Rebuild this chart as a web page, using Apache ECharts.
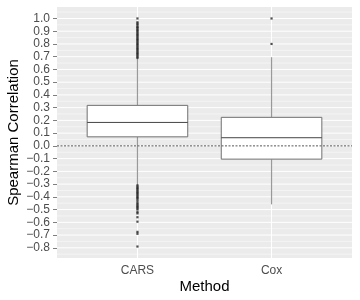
<!DOCTYPE html>
<html><head><meta charset="utf-8">
<script src="https://cdn.jsdelivr.net/npm/echarts@6/dist/echarts.min.js"></script>
<style>html,body{margin:0;padding:0;background:#fff}#c{width:360px;height:300px}</style>
</head><body><div id="c"></div>
<script>
// ---- data ----
const categories = ['CARS', 'Cox'];
const categoryX = [1, 2];
// [lower whisker, Q1, median, Q3, upper whisker]
const carsBox = [-0.307, 0.071, 0.184, 0.318, 0.686];
const coxBox = [-0.459, -0.104, 0.064, 0.224, 0.696];
const carsOutliers = [1.0, 0.97, 0.96, 0.95, 0.935, 0.93, 0.92, 0.91, 0.90, 0.89, 0.88, 0.87, 0.86, 0.85, 0.84, 0.83, 0.82, 0.81, 0.80, 0.79, 0.78, 0.77, 0.76, 0.75, 0.74, 0.73, 0.72, 0.71, 0.70, 0.69,
  -0.31, -0.32, -0.33, -0.34, -0.35, -0.36, -0.37, -0.38, -0.39, -0.40, -0.41, -0.42, -0.435, -0.45, -0.46, -0.47, -0.48, -0.49, -0.50, -0.52, -0.53, -0.56, -0.595, -0.675, -0.69, -0.79];
const coxOutliers = [1.0, 0.8];
const yMajorTicks = [-0.8, -0.7, -0.6, -0.5, -0.4, -0.3, -0.2, -0.1, 0.0, 0.1, 0.2, 0.3, 0.4, 0.5, 0.6, 0.7, 0.8, 0.9, 1.0];
const yMinorTicks = [-0.85, -0.75, -0.65, -0.55, -0.45, -0.35, -0.25, -0.15, -0.05, 0.05, 0.15, 0.25, 0.35, 0.45, 0.55, 0.65, 0.75, 0.85, 0.95, 1.05];
const referenceY = [0.0];

// ---- chart ----
const chart = echarts.init(document.getElementById('c'), null, {renderer: 'canvas'});
const font = '"Liberation Sans", Arial, sans-serif';
const fmt = v => (v < 0 ? '\u2212' : '') + Math.abs(v).toFixed(1);

const boxData = [[categoryX[0]].concat(carsBox), [categoryX[1]].concat(coxBox)];
const outlierData = carsOutliers.map(v => [categoryX[0], v]).concat(coxOutliers.map(v => [categoryX[1], v]));

function hLine(color, dash) {
  return function (params, api) {
    const cs = params.coordSys;
    const y = api.coord([categoryX[0], api.value(1)])[1];
    return {type: 'line', shape: {x1: cs.x, y1: y, x2: cs.x + cs.width, y2: y},
      style: {stroke: color, lineWidth: 1, lineDash: dash || null}};
  };
}

const option = {
  animation: false,
  grid: {left: 57, right: 8, top: 7, bottom: 42, show: true, backgroundColor: '#EBEBEB', borderWidth: 0,
    containLabel: false, outerBoundsMode: 'none'},
  xAxis: {
    type: 'value', min: 0.4, max: 2.6,
    name: 'Method', nameLocation: 'middle', nameGap: 21, nameMoveOverlap: false,
    nameTextStyle: {fontFamily: font, fontSize: 15, color: '#000'},
    axisLine: {show: false}, splitLine: {show: false},
    axisTick: {show: true, customValues: categoryX, length: 4, lineStyle: {color: '#7f7f7f'}},
    axisLabel: {customValues: categoryX, formatter: v => categories[categoryX.indexOf(v)] || '', margin: 7,
      fontFamily: font, fontSize: 12, color: '#4d4d4d'}
  },
  yAxis: {
    type: 'value', min: -0.88, max: 1.09,
    name: 'Spearman Correlation', nameLocation: 'middle', nameRotate: 90, nameGap: 36, nameMoveOverlap: false,
    nameTextStyle: {fontFamily: font, fontSize: 15, color: '#000'},
    axisLine: {show: false}, splitLine: {show: false},
    axisTick: {show: true, customValues: yMajorTicks, length: 4, lineStyle: {color: '#7f7f7f'}},
    axisLabel: {customValues: yMajorTicks, formatter: fmt, margin: 7,
      fontFamily: font, fontSize: 12, color: '#4d4d4d'}
  },
  series: [
    {type: 'custom', z: 1, silent: true, data: yMinorTicks.map(v => [categoryX[0], v]), renderItem: hLine('#F4F4F4')},
    {type: 'custom', z: 1, silent: true, data: yMajorTicks.map(v => [categoryX[0], v]), renderItem: hLine('#FFFFFF')},
    {type: 'custom', z: 1, silent: true, data: categoryX.map(x => [x, 0]), renderItem: function (params, api) {
      const cs = params.coordSys;
      const x = api.coord([api.value(0), 0])[0];
      return {type: 'line', shape: {x1: x, y1: cs.y, x2: x, y2: cs.y + cs.height}, style: {stroke: '#FFFFFF', lineWidth: 1}};
    }},
    {type: 'custom', z: 2, silent: true, data: boxData, encode: {x: 0, y: [1, 2, 3, 4, 5]},
      renderItem: function (params, api) {
        const x = api.value(0);
        const pLo = api.coord([x, api.value(1)]);
        const pQ1 = api.coord([x, api.value(2)]);
        const pMed = api.coord([x, api.value(3)]);
        const pQ3 = api.coord([x, api.value(4)]);
        const pHi = api.coord([x, api.value(5)]);
        const hw = api.size([0.75, 0])[0] / 2;
        const cx = pMed[0];
        return {type: 'group', children: [
          {type: 'line', shape: {x1: cx, y1: pHi[1], x2: cx, y2: pQ3[1]}, style: {stroke: '#999999', lineWidth: 1.2}},
          {type: 'line', shape: {x1: cx, y1: pQ1[1], x2: cx, y2: pLo[1]}, style: {stroke: '#999999', lineWidth: 1.2}},
          {type: 'rect', shape: {x: cx - hw, y: pQ3[1], width: 2 * hw, height: pQ1[1] - pQ3[1]},
            style: {fill: '#FFFFFF', stroke: '#707070', lineWidth: 1}},
          {type: 'line', shape: {x1: cx - hw, y1: pMed[1], x2: cx + hw, y2: pMed[1]}, style: {stroke: '#444444', lineWidth: 1}}
        ]};
      }},
    {type: 'scatter', z: 3, silent: true, data: outlierData, symbol: 'rect', symbolSize: 2.2,
      itemStyle: {color: '#222222'}},
    {type: 'custom', z: 4, silent: true, data: referenceY.map(v => [categoryX[0], v]), renderItem: hLine('#555555', [2, 1.5])}
  ]
};
chart.setOption(option);
</script>
</body></html>
